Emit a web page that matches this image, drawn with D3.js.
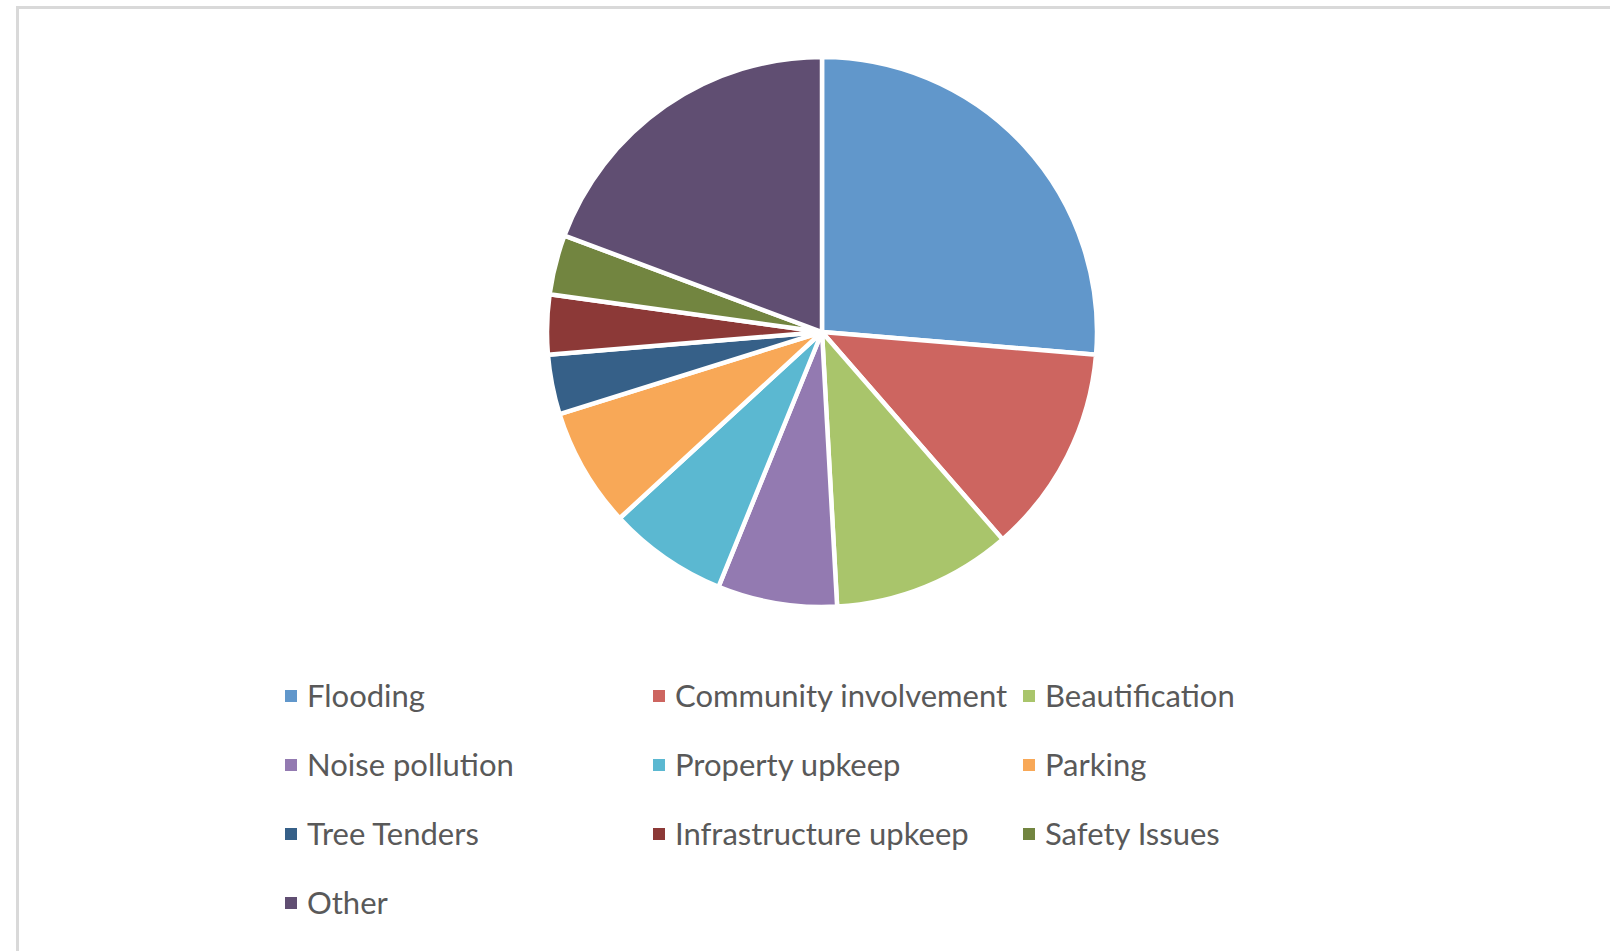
<!DOCTYPE html>
<html>
<head>
<meta charset="utf-8">
<script src="https://cdn.jsdelivr.net/npm/d3@7"></script>
<style>
    html, body { margin: 0; padding: 0; background: #fff; }
    svg { display: block; }
</style>
</head>
<body>
<div id="chart"></div>
<script>
// categories and counts
const categories = ["Flooding", "Community involvement", "Beautification",
    "Noise pollution", "Property upkeep", "Parking",
    "Tree Tenders", "Infrastructure upkeep", "Safety Issues", "Other"];
const counts = [15, 7, 6, 4, 4, 4, 2, 2, 2, 11];
const colors = ["#6197CB", "#CD6560", "#A9C56B", "#937AB1", "#5BB8D1",
    "#F8A857", "#366088", "#8C3937", "#728540", "#604E72"];

const width = 1610, height = 951;

const svg = d3.select('#chart')
    .append('svg')
    .attr('width', width)
    .attr('height', height);

// chart area frame (runs off the right and bottom edge)
svg.append('rect')
    .attr('x', 17.5)
    .attr('y', 7.5)
    .attr('width', width + 20)
    .attr('height', height + 20)
    .attr('fill', '#fff')
    .attr('stroke', '#d9d9d9')
    .attr('stroke-width', 3);

const cx = 822, cy = 332, radius = 275;

const pie = d3.pie().sort(null).value(d => d.value);
const arc = d3.arc().innerRadius(0).outerRadius(radius);

const data = categories.map((c, i) => ({name: c, value: counts[i], color: colors[i]}));

svg.append('g')
    .attr('transform', `translate(${cx},${cy})`)
    .selectAll('path')
    .data(pie(data))
    .join('path')
    .attr('d', arc)
    .attr('fill', d => d.data.color)
    .attr('stroke', '#fff')
    .attr('stroke-width', 4.5)
    .attr('stroke-linejoin', 'round');

// legend, three columns
const colX = [285, 653, 1023];
const rowY = [696, 765, 834, 903];
const box = 12;

const legend = svg.append('g')
    .selectAll('g')
    .data(data)
    .join('g')
    .attr('transform', (d, i) => `translate(${colX[i % 3]},${rowY[Math.floor(i / 3)]})`);

legend.append('rect')
    .attr('x', 0)
    .attr('y', -box / 2)
    .attr('width', box)
    .attr('height', box)
    .attr('fill', d => d.color);

legend.append('text')
    .attr('x', 22)
    .attr('y', 0)
    .attr('dy', '0.35em')
    .attr('fill', '#595959')
    .style('font-family', 'Lato, "Open Sans", sans-serif')
    .style('font-size', '31px')
    .text(d => d.name);
</script>
</body>
</html>
